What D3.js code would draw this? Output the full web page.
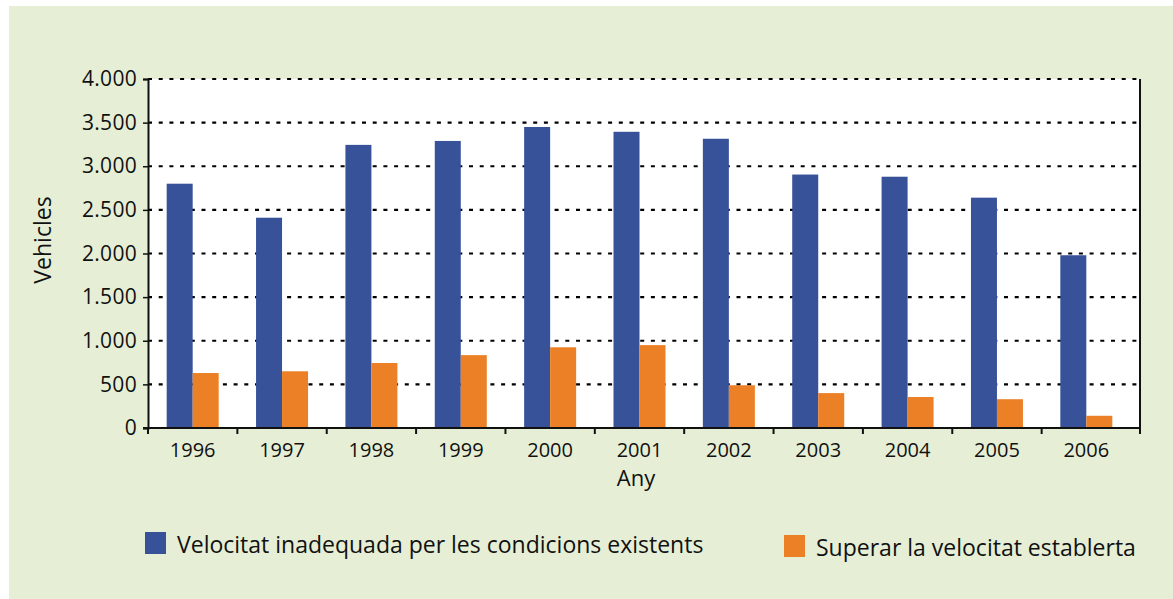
<!DOCTYPE html>
<html>
<head>
<meta charset="utf-8">
<script src="https://cdn.jsdelivr.net/npm/d3@7"></script>
<style>
  body { margin: 0; background: #fff; }
  text { font-family: "Open Sans", "Noto Sans", sans-serif; fill: #111; }
</style>
</head>
<body>
<div id="chart"></div>
<script>
// Chart data
var years = ["1996", "1997", "1998", "1999", "2000", "2001", "2002", "2003", "2004", "2005", "2006"];
var inadequada = [2800, 2410, 3245, 3290, 3450, 3395, 3315, 2905, 2880, 2640, 1980];
var superar = [630, 650, 745, 835, 925, 950, 490, 400, 355, 330, 140];
var seriesNames = ["Velocitat inadequada per les condicions existents", "Superar la velocitat establerta"];
var yTicks = [0, 500, 1000, 1500, 2000, 2500, 3000, 3500, 4000];

var svgWidth = 1173;
var svgHeight = 599;
var colors = ["#38529a", "#eb8026"];

var svg = d3.select("#chart")
    .append("svg")
    .attr("width", svgWidth)
    .attr("height", svgHeight);

// green panel
svg.append("rect")
    .attr("x", 9).attr("y", 6)
    .attr("width", svgWidth - 9).attr("height", svgHeight - 6)
    .attr("fill", "#e6efd5");

var plot = { left: 148, right: 1140, top: 79, bottom: 428 };

// white plot area
svg.append("rect")
    .attr("x", plot.left).attr("y", plot.top)
    .attr("width", plot.right - plot.left).attr("height", plot.bottom - plot.top)
    .attr("fill", "#fff");

var x = d3.scaleBand()
    .domain(years)
    .range([plot.left, plot.left + 983]);

var y = d3.scaleLinear()
    .domain([0, 4000])
    .range([plot.bottom, plot.top]);

var barW = 26;

// gridlines
svg.append("g")
    .selectAll("line")
    .data(yTicks.filter(d => d > 0))
    .enter()
    .append("line")
    .attr("x1", plot.left)
    .attr("x2", plot.right)
    .attr("y1", d => y(d))
    .attr("y2", d => y(d))
    .attr("stroke", "#000")
    .attr("stroke-width", 2.2)
    .attr("stroke-dasharray", "4,6.7");

// bars
var groups = svg.append("g")
    .selectAll("g")
    .data(years)
    .enter()
    .append("g")
    .attr("transform", d => `translate(${x(d) + x.bandwidth() / 2 - barW}, 0)`);

groups.append("rect")
    .attr("x", 0)
    .attr("y", (d, i) => y(inadequada[i]))
    .attr("width", barW)
    .attr("height", (d, i) => plot.bottom - y(inadequada[i]))
    .attr("fill", colors[0]);

groups.append("rect")
    .attr("x", barW)
    .attr("y", (d, i) => y(superar[i]))
    .attr("width", barW)
    .attr("height", (d, i) => plot.bottom - y(superar[i]))
    .attr("fill", colors[1]);

// right border
svg.append("line")
    .attr("x1", plot.right).attr("x2", plot.right)
    .attr("y1", plot.top).attr("y2", plot.bottom + 4)
    .attr("stroke", "#111").attr("stroke-width", 2);

// y axis
var leftAxis = d3.axisLeft(y)
    .tickValues(yTicks)
    .tickSize(5)
    .tickPadding(6)
    .tickFormat(d => d3.format(",")(d).replace(/,/g, "."));

var yAxisG = svg.append("g")
    .attr("transform", `translate(${plot.left}, 0)`)
    .call(leftAxis);
yAxisG.select(".domain").attr("stroke", "#111").attr("stroke-width", 2);
yAxisG.selectAll(".tick line").attr("stroke", "#111").attr("stroke-width", 1.5);
yAxisG.selectAll("text")
    .attr("font-size", "21px")
    .attr("letter-spacing", "0.3px")
    .attr("fill", "#111");

// x axis
var xTickPos = years.map(d => x(d)).concat([plot.right]);
svg.append("line")
    .attr("x1", plot.left - 5).attr("x2", plot.right)
    .attr("y1", plot.bottom).attr("y2", plot.bottom)
    .attr("stroke", "#111").attr("stroke-width", 2);

svg.append("g")
    .selectAll("line")
    .data(xTickPos)
    .enter()
    .append("line")
    .attr("x1", d => d).attr("x2", d => d)
    .attr("y1", plot.bottom).attr("y2", plot.bottom + 6)
    .attr("stroke", "#111").attr("stroke-width", 2);

svg.append("g")
    .selectAll("text")
    .data(years)
    .enter()
    .append("text")
    .attr("x", d => x(d) + x.bandwidth() / 2)
    .attr("y", 457)
    .attr("text-anchor", "middle")
    .attr("font-size", "20px")
    .text(d => d);

// axis labels
svg.append("text")
    .attr("x", 636)
    .attr("y", 486)
    .attr("text-anchor", "middle")
    .attr("font-size", "22px")
    .text("Any");

svg.append("text")
    .attr("transform", "translate(51, 240) rotate(-90)")
    .attr("text-anchor", "middle")
    .attr("font-size", "23px")
    .text("Vehicles");

// legend
var legendX = [145, 784];
var legend = svg.append("g")
    .selectAll("g")
    .data(seriesNames)
    .enter()
    .append("g")
    .attr("transform", (d, i) => `translate(${legendX[i]}, ${i === 0 ? 532 : 535})`);

legend.append("rect")
    .attr("width", 21)
    .attr("height", 22)
    .attr("fill", (d, i) => colors[i]);

legend.append("text")
    .attr("x", 32)
    .attr("y", 21)
    .attr("font-size", "23px")
    .text(d => d);
</script>
</body>
</html>
